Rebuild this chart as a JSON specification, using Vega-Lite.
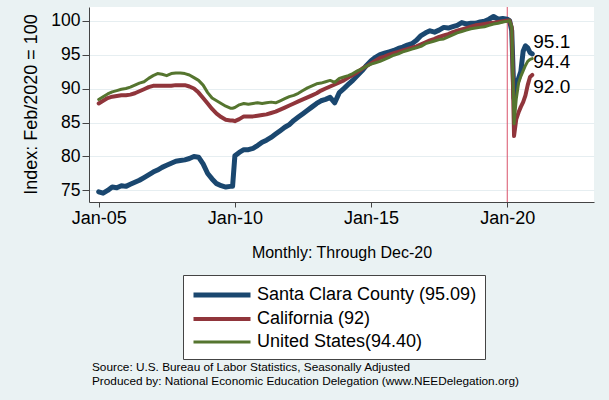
{
  "$schema": "https://vega.github.io/schema/vega-lite/v6.json",
  "autosize": {"type": "none"},
  "padding": {"left": 89, "top": 7, "right": 15, "bottom": 198},
  "width": 505,
  "height": 195,
  "background": "#eaf2f3",
  "config": {
    "view": {"fill": "white", "stroke": null},
    "font": "Liberation Sans",
    "text": {"font": "Liberation Sans"}
  },
  "title": {
    "text": ["Source: U.S. Bureau of Labor Statistics, Seasonally Adjusted", "Produced by: National Economic Education Delegation (www.NEEDelegation.org)"],
    "orient": "bottom",
    "anchor": "start",
    "frame": "group",
    "dx": 3,
    "offset": 2,
    "fontSize": 11.8,
    "fontWeight": "normal",
    "lineHeight": 14,
    "color": "#000000",
    "font": "Liberation Sans"
  },
  "datasets": {
    "emp": [
      {"d": "2005-01-01", "sc": 74.8, "ca": 87.8, "us": 88.4},
      {"d": "2005-03-01", "sc": 74.6, "ca": 88.2, "us": 88.8},
      {"d": "2005-05-01", "sc": 75.0, "ca": 88.6, "us": 89.2},
      {"d": "2005-07-01", "sc": 75.5, "ca": 88.8, "us": 89.5},
      {"d": "2005-09-01", "sc": 75.4, "ca": 88.9, "us": 89.7},
      {"d": "2005-11-01", "sc": 75.7, "ca": 89.0, "us": 89.9},
      {"d": "2006-01-01", "sc": 75.6, "ca": 89.0, "us": 90.0},
      {"d": "2006-03-01", "sc": 75.9, "ca": 89.1, "us": 90.2},
      {"d": "2006-05-01", "sc": 76.2, "ca": 89.3, "us": 90.5},
      {"d": "2006-07-01", "sc": 76.5, "ca": 89.6, "us": 90.8},
      {"d": "2006-09-01", "sc": 76.9, "ca": 89.9, "us": 91.0},
      {"d": "2006-11-01", "sc": 77.3, "ca": 90.2, "us": 91.5},
      {"d": "2007-01-01", "sc": 77.7, "ca": 90.4, "us": 91.9},
      {"d": "2007-03-01", "sc": 78.0, "ca": 90.4, "us": 92.2},
      {"d": "2007-05-01", "sc": 78.4, "ca": 90.4, "us": 92.1},
      {"d": "2007-07-01", "sc": 78.7, "ca": 90.4, "us": 91.9},
      {"d": "2007-09-01", "sc": 79.0, "ca": 90.4, "us": 92.2},
      {"d": "2007-11-01", "sc": 79.3, "ca": 90.5, "us": 92.3},
      {"d": "2008-01-01", "sc": 79.4, "ca": 90.5, "us": 92.3},
      {"d": "2008-03-01", "sc": 79.5, "ca": 90.5, "us": 92.2},
      {"d": "2008-05-01", "sc": 79.7, "ca": 90.3, "us": 92.0},
      {"d": "2008-07-01", "sc": 80.0, "ca": 90.0, "us": 91.6},
      {"d": "2008-09-01", "sc": 79.9, "ca": 89.4, "us": 91.2},
      {"d": "2008-11-01", "sc": 78.9, "ca": 88.6, "us": 90.5},
      {"d": "2009-01-01", "sc": 77.5, "ca": 87.8, "us": 89.4},
      {"d": "2009-03-01", "sc": 76.7, "ca": 87.0, "us": 88.6},
      {"d": "2009-05-01", "sc": 76.0, "ca": 86.3, "us": 88.2},
      {"d": "2009-07-01", "sc": 75.7, "ca": 85.8, "us": 87.8},
      {"d": "2009-09-01", "sc": 75.5, "ca": 85.4, "us": 87.4},
      {"d": "2009-11-01", "sc": 75.6, "ca": 85.3, "us": 87.1},
      {"d": "2009-12-01", "sc": 75.6, "ca": 85.3, "us": 87.1},
      {"d": "2010-01-01", "sc": 80.1, "ca": 85.2, "us": 87.2},
      {"d": "2010-03-01", "sc": 80.6, "ca": 85.5, "us": 87.6},
      {"d": "2010-05-01", "sc": 81.0, "ca": 85.9, "us": 87.8},
      {"d": "2010-07-01", "sc": 81.0, "ca": 85.9, "us": 87.7},
      {"d": "2010-09-01", "sc": 81.2, "ca": 85.9, "us": 87.8},
      {"d": "2010-11-01", "sc": 81.6, "ca": 86.0, "us": 87.9},
      {"d": "2011-01-01", "sc": 82.1, "ca": 86.1, "us": 87.8},
      {"d": "2011-03-01", "sc": 82.4, "ca": 86.2, "us": 87.9},
      {"d": "2011-05-01", "sc": 82.8, "ca": 86.4, "us": 88.0},
      {"d": "2011-07-01", "sc": 83.3, "ca": 86.6, "us": 87.9},
      {"d": "2011-09-01", "sc": 83.8, "ca": 86.9, "us": 88.2},
      {"d": "2011-11-01", "sc": 84.3, "ca": 87.2, "us": 88.5},
      {"d": "2012-01-01", "sc": 84.7, "ca": 87.5, "us": 88.8},
      {"d": "2012-03-01", "sc": 85.3, "ca": 87.8, "us": 89.0},
      {"d": "2012-05-01", "sc": 85.8, "ca": 88.1, "us": 89.3},
      {"d": "2012-07-01", "sc": 86.3, "ca": 88.4, "us": 89.7},
      {"d": "2012-09-01", "sc": 86.8, "ca": 88.7, "us": 90.1},
      {"d": "2012-11-01", "sc": 87.3, "ca": 89.0, "us": 90.4},
      {"d": "2013-01-01", "sc": 87.8, "ca": 89.3, "us": 90.7},
      {"d": "2013-03-01", "sc": 88.2, "ca": 89.7, "us": 90.8},
      {"d": "2013-05-01", "sc": 88.4, "ca": 90.0, "us": 91.0},
      {"d": "2013-07-01", "sc": 88.7, "ca": 90.3, "us": 91.2},
      {"d": "2013-09-01", "sc": 87.9, "ca": 90.6, "us": 90.9},
      {"d": "2013-11-01", "sc": 89.4, "ca": 90.9, "us": 91.5},
      {"d": "2014-01-01", "sc": 90.0, "ca": 91.2, "us": 91.7},
      {"d": "2014-03-01", "sc": 90.6, "ca": 91.6, "us": 91.9},
      {"d": "2014-05-01", "sc": 91.2, "ca": 92.0, "us": 92.2},
      {"d": "2014-07-01", "sc": 91.9, "ca": 92.4, "us": 92.6},
      {"d": "2014-09-01", "sc": 92.6, "ca": 92.9, "us": 92.9},
      {"d": "2014-11-01", "sc": 93.4, "ca": 93.3, "us": 93.3},
      {"d": "2015-01-01", "sc": 94.1, "ca": 93.7, "us": 93.6},
      {"d": "2015-03-01", "sc": 94.6, "ca": 94.1, "us": 93.8},
      {"d": "2015-05-01", "sc": 95.0, "ca": 94.5, "us": 94.0},
      {"d": "2015-07-01", "sc": 95.2, "ca": 94.7, "us": 94.3},
      {"d": "2015-09-01", "sc": 95.4, "ca": 95.0, "us": 94.6},
      {"d": "2015-11-01", "sc": 95.6, "ca": 95.2, "us": 94.9},
      {"d": "2016-01-01", "sc": 95.9, "ca": 95.4, "us": 95.1},
      {"d": "2016-03-01", "sc": 96.1, "ca": 95.6, "us": 95.4},
      {"d": "2016-05-01", "sc": 96.4, "ca": 95.8, "us": 95.6},
      {"d": "2016-07-01", "sc": 96.6, "ca": 96.0, "us": 95.8},
      {"d": "2016-09-01", "sc": 97.1, "ca": 96.2, "us": 96.0},
      {"d": "2016-11-01", "sc": 97.8, "ca": 96.5, "us": 96.2},
      {"d": "2017-01-01", "sc": 98.2, "ca": 96.8, "us": 96.6},
      {"d": "2017-03-01", "sc": 98.5, "ca": 97.1, "us": 96.8},
      {"d": "2017-05-01", "sc": 98.3, "ca": 97.3, "us": 97.0},
      {"d": "2017-07-01", "sc": 98.6, "ca": 97.6, "us": 97.2},
      {"d": "2017-09-01", "sc": 99.0, "ca": 97.8, "us": 97.3},
      {"d": "2017-11-01", "sc": 98.9, "ca": 98.0, "us": 97.6},
      {"d": "2018-01-01", "sc": 99.1, "ca": 98.3, "us": 97.9},
      {"d": "2018-03-01", "sc": 99.3, "ca": 98.5, "us": 98.2},
      {"d": "2018-05-01", "sc": 99.7, "ca": 98.7, "us": 98.4},
      {"d": "2018-07-01", "sc": 99.5, "ca": 98.9, "us": 98.6},
      {"d": "2018-09-01", "sc": 99.6, "ca": 99.1, "us": 98.8},
      {"d": "2018-11-01", "sc": 99.6, "ca": 99.3, "us": 98.9},
      {"d": "2019-01-01", "sc": 99.8, "ca": 99.4, "us": 99.0},
      {"d": "2019-03-01", "sc": 99.9, "ca": 99.5, "us": 99.1},
      {"d": "2019-05-01", "sc": 100.2, "ca": 99.6, "us": 99.3},
      {"d": "2019-07-01", "sc": 100.6, "ca": 99.7, "us": 99.5},
      {"d": "2019-09-01", "sc": 100.2, "ca": 99.8, "us": 99.6},
      {"d": "2019-11-01", "sc": 100.3, "ca": 99.9, "us": 99.8},
      {"d": "2020-01-01", "sc": 100.2, "ca": 100.0, "us": 99.9},
      {"d": "2020-02-01", "sc": 100.0, "ca": 100.0, "us": 100.0},
      {"d": "2020-03-01", "sc": 98.5, "ca": 99.0, "us": 99.1},
      {"d": "2020-04-01", "sc": 88.5, "ca": 83.0, "us": 84.8},
      {"d": "2020-05-01", "sc": 90.5, "ca": 85.5, "us": 88.5},
      {"d": "2020-06-01", "sc": 91.5, "ca": 86.5, "us": 90.8},
      {"d": "2020-07-01", "sc": 92.5, "ca": 87.3, "us": 91.8},
      {"d": "2020-08-01", "sc": 95.5, "ca": 88.0, "us": 92.6},
      {"d": "2020-09-01", "sc": 96.3, "ca": 89.0, "us": 93.4},
      {"d": "2020-10-01", "sc": 96.0, "ca": 90.5, "us": 94.0},
      {"d": "2020-11-01", "sc": 95.3, "ca": 91.7, "us": 94.3},
      {"d": "2020-12-01", "sc": 95.09, "ca": 92.0, "us": 94.4}
    ],
    "labs": [
      {"d": "2020-12-01", "value": 95.09, "t": "95.1", "s": "sc"},
      {"d": "2020-12-01", "value": 94.4, "t": "94.4", "s": "us"},
      {"d": "2020-12-01", "value": 92.0, "t": "92.0", "s": "ca"}
    ],
    "ref": [{"d": "2020-01-01"}]
  },
  "encoding": {
    "x": {
      "field": "d",
      "type": "temporal",
      "scale": {
        "type": "utc",
        "nice": false,
        "domain": [
          {"year": 2004, "month": 8, "date": 24, "utc": true},
          {"year": 2023, "month": 3, "date": 9, "utc": true}
        ]
      },
      "axis": {
        "values": [
          {"year": 2005, "month": 1, "date": 1, "utc": true},
          {"year": 2010, "month": 1, "date": 1, "utc": true},
          {"year": 2015, "month": 1, "date": 1, "utc": true},
          {"year": 2020, "month": 1, "date": 1, "utc": true}
        ],
        "labelExpr": "utcFormat(datum.value, '%b-%y')",
        "title": "Monthly: Through Dec-20",
        "titleFontSize": 16,
        "titleFontWeight": "normal",
        "titleColor": "#000000",
        "titleFont": "Liberation Sans",
        "titlePadding": 17,
        "labelFontSize": 18,
        "labelColor": "#000000",
        "labelFont": "Liberation Sans",
        "labelPadding": 2,
        "labelFlush": false,
        "labelOverlap": false,
        "tickSize": 5,
        "tickColor": "#444444",
        "domainColor": "#444444",
        "grid": false
      }
    },
    "y": {
      "field": "value",
      "type": "quantitative",
      "scale": {"domain": [73.3, 102], "nice": false, "zero": false},
      "axis": {
        "values": [75, 80, 85, 90, 95, 100],
        "labelOverlap": false,
        "title": "Index: Feb/2020 = 100",
        "titleFontSize": 18,
        "titleFontWeight": "normal",
        "titleColor": "#000000",
        "titleFont": "Liberation Sans",
        "titleX": -49,
        "titleY": 97,
        "titleAngle": 270,
        "titleAlign": "center",
        "titleBaseline": "bottom",
        "labelFontSize": 17.5,
        "labelColor": "#000000",
        "labelFont": "Liberation Sans",
        "labelPadding": 2,
        "tickSize": 7,
        "tickColor": "#444444",
        "domainColor": "#444444",
        "grid": true,
        "gridColor": "#e6eef1",
        "gridWidth": 1
      }
    }
  },
  "layer": [
    {
      "data": {"name": "ref"},
      "mark": {"type": "rule", "color": "#d9536b", "strokeWidth": 1},
      "encoding": {"y": null}
    },
    {
      "data": {"name": "emp"},
      "transform": [{"fold": ["sc", "ca", "us"], "as": ["series", "value"]}],
      "mark": {"type": "line", "strokeJoin": "round", "strokeCap": "round"},
      "encoding": {
        "color": {
          "field": "series",
          "type": "nominal",
          "scale": {"domain": ["sc", "ca", "us"], "range": ["#1a476f", "#90353b", "#55752f"]},
          "legend": {
            "orient": "none",
            "legendX": 94,
            "legendY": 268,
            "title": null,
            "fillColor": "white",
            "strokeColor": "#444444",
            "padding": 8,
            "labelFontSize": 18,
            "labelFont": "Liberation Sans",
            "labelColor": "#000000",
            "labelOffset": 42,
            "labelLimit": 400,
            "symbolType": "M-1,0H5",
            "symbolSize": 361,
            "symbolStrokeWidth": 4,
            "rowPadding": 2.5,
            "labelExpr": "datum.label == 'sc' ? 'Santa Clara County (95.09)' : datum.label == 'ca' ? 'California (92)' : 'United States(94.40)'"
          }
        },
        "strokeWidth": {
          "field": "series",
          "type": "nominal",
          "scale": {"domain": ["sc", "ca", "us"], "range": [5, 3, 3.5]},
          "legend": null
        }
      }
    },
    {
      "data": {"name": "labs"},
      "transform": [{"filter": "datum.s == 'sc'"}],
      "mark": {"type": "text", "align": "left", "baseline": "middle", "fontSize": 19, "dx": 1, "dy": -12, "color": "#000000"},
      "encoding": {"text": {"field": "t"}}
    },
    {
      "data": {"name": "labs"},
      "transform": [{"filter": "datum.s == 'us'"}],
      "mark": {"type": "text", "align": "left", "baseline": "middle", "fontSize": 19, "dx": 1, "dy": 3, "color": "#000000"},
      "encoding": {"text": {"field": "t"}}
    },
    {
      "data": {"name": "labs"},
      "transform": [{"filter": "datum.s == 'ca'"}],
      "mark": {"type": "text", "align": "left", "baseline": "middle", "fontSize": 19, "dx": 1, "dy": 12.5, "color": "#000000"},
      "encoding": {"text": {"field": "t"}}
    }
  ]
}
